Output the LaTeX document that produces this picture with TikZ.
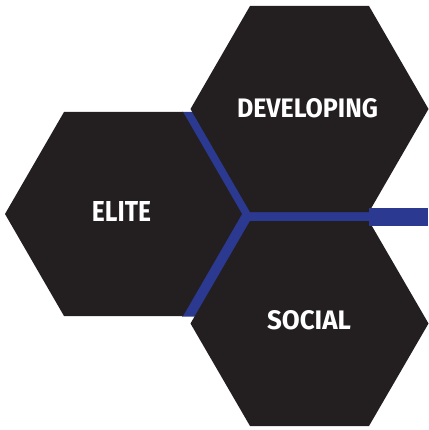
\documentclass[tikz,border=0pt]{standalone}
\usepackage{fontspec}
\setmainfont{Fira Sans}
\usepackage{graphicx}
\definecolor{hexblack}{HTML}{231F20}
\definecolor{hexblue}{HTML}{2B3990}
\begin{document}
\begin{tikzpicture}[x=1pt,y=-1pt,
  hexfill/.style={fill=hexblack},
  bluefill/.style={fill=hexblue},
  label/.style={inner sep=0pt,text=white,anchor=center,font=\bfseries}]
\useasboundingbox (0,0) rectangle (428,430);
% blue gaps
\fill[bluefill] (182,112) -- (193,112) -- (250.5,211.5) -- (370,211.5) -- (370,221.5)
  -- (250.5,221.5) -- (195.5,316.5) -- (182,316.5) -- (241,214) -- cycle;
% hexagons
\fill[hexfill] (5,214) -- (64,112) -- (183,112) -- (242,214) -- (183,316) -- (64,316) -- cycle;
\fill[hexfill] (190.5,109) -- (250,6) -- (369,6) -- (428.5,109) -- (369,212) -- (250,212) -- cycle;
\fill[hexfill] (190.5,323.5) -- (250,221) -- (369,221) -- (428.5,323.5) -- (369,426) -- (250,426) -- cycle;
% right blue stub
\fill[bluefill] (369,208.3) rectangle (428,225.7);
% labels
\node[label] (dev) at (307.5,108.5) {\resizebox{141pt}{19pt}{DEVELOPING}};
\node[label] (elite) at (121.5,211) {\resizebox{59pt}{20pt}{ELITE}};
\node[label] (social) at (309,320.5) {\resizebox{84pt}{19pt}{SOCIAL}};
\end{tikzpicture}
\end{document}
